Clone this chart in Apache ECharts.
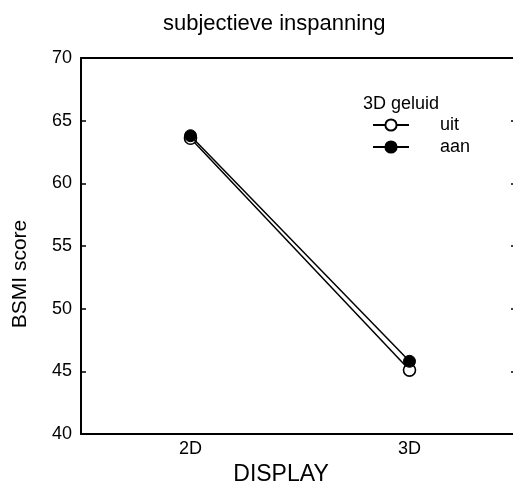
<!DOCTYPE html>
<html><head><meta charset="utf-8">
<script src="https://cdn.jsdelivr.net/npm/echarts@6/dist/echarts.min.js"></script>
<style>html,body{margin:0;padding:0;background:#fff}#c{width:513px;height:496px}</style>
</head><body><div id="c"></div>
<script>
const categories = ['2D', '3D'];
const uitValues = [63.6, 45.1];
const aanValues = [63.8, 45.8];
const yTicks = [40, 45, 50, 55, 60, 65, 70];
const seriesNames = ['uit', 'aan'];
const chartTitle = 'subjectieve inspanning';
const legendTitle = '3D geluid';
const xName = 'DISPLAY';
const yName = 'BSMI score';

const FONT = 'Liberation Sans, Arial, Helvetica, sans-serif';
const chart = echarts.init(document.getElementById('c'));
chart.setOption({
  animation: false,
  backgroundColor: '#fff',
  textStyle: {fontFamily: FONT, color: '#000'},
  title: [
    {text: chartTitle, left: 158, top: 8,
     textStyle: {fontSize: 22, fontWeight: 'normal', color: '#000', fontFamily: FONT}},
    {text: legendTitle, left: 358, top: 90,
     textStyle: {fontSize: 18, fontWeight: 'normal', color: '#000', fontFamily: FONT}}
  ],
  legend: {
    orient: 'vertical', left: 367, top: 111, itemWidth: 36, itemHeight: 14, itemGap: 4,
    data: seriesNames,
    textStyle: {fontSize: 18, lineHeight: 16, color: '#000', fontFamily: FONT, padding: [0, 0, 0, 26]}
  },
  grid: {left: 81, top: 58, width: 438, height: 376, containLabel: false, outerBoundsMode: 'none'},
  xAxis: [
    {type: 'category', data: categories, position: 'bottom',
     name: xName, nameLocation: 'middle', nameGap: 28,
     nameTextStyle: {fontSize: 23, color: '#000', fontFamily: FONT, padding: [0, 38, 0, 0]},
     axisLine: {lineStyle: {color: '#000', width: 2}},
     axisTick: {inside: true, alignWithLabel: true, length: 5, lineStyle: {color: '#000'}},
     axisLabel: {fontSize: 18, color: '#000', margin: 6, fontFamily: FONT},
     splitLine: {show: false}},
    {type: 'category', data: categories, position: 'top',
     axisLine: {lineStyle: {color: '#000', width: 2}},
     axisTick: {show: false}, axisLabel: {show: false}, splitLine: {show: false}}
  ],
  yAxis: [
    {type: 'value', min: 40, max: 70, interval: 5, position: 'left',
     name: yName, nameLocation: 'middle', nameGap: 50,
     nameTextStyle: {fontSize: 21, color: '#000', fontFamily: FONT, padding: [0, 56, 0, 0]},
     axisLine: {show: true, lineStyle: {color: '#000', width: 2}},
     axisTick: {show: true, inside: true, length: 5, lineStyle: {color: '#000', width: 1.5}},
     axisLabel: {fontSize: 18, color: '#000', margin: 9, fontFamily: FONT,
                 formatter: v => yTicks.includes(v) ? String(v) : ''},
     splitLine: {show: false}},
    {type: 'value', min: 40, max: 70, interval: 5, position: 'right',
     axisLine: {show: false},
     axisTick: {show: true, inside: true, length: 8, lineStyle: {color: '#000', width: 1.5}},
     axisLabel: {show: false}, splitLine: {show: false}}
  ],
  series: [
    {name: seriesNames[0], type: 'line', data: uitValues, symbol: 'circle', symbolSize: 12,
     itemStyle: {color: '#fff', borderColor: '#000', borderWidth: 1.6},
     lineStyle: {color: '#000', width: 1.5}, z: 2},
    {name: seriesNames[1], type: 'line', data: aanValues, symbol: 'circle', symbolSize: 12,
     itemStyle: {color: '#000', borderColor: '#000', borderWidth: 1},
     lineStyle: {color: '#000', width: 1.5}, z: 3}
  ]
});
</script></body></html>
